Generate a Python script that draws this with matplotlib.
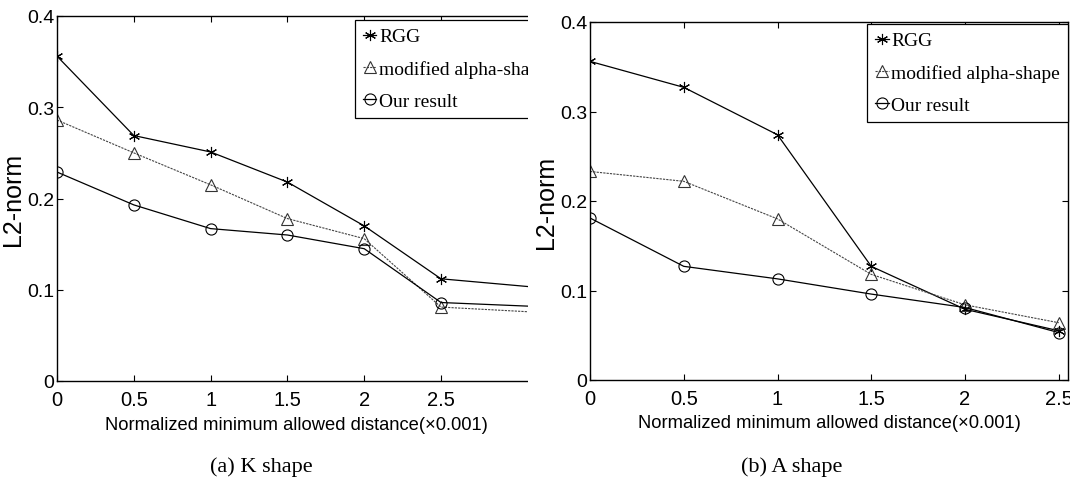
import matplotlib.pyplot as plt
from matplotlib.patches import Rectangle

# K shape (left), A shape (right)
x_k = [0, 0.5, 1, 1.5, 2, 2.5, 3.5]
rgg_k = [0.356, 0.269, 0.251, 0.218, 0.170, 0.112, 0.097]
alpha_k = [0.286, 0.250, 0.215, 0.178, 0.156, 0.081, 0.072]
ours_k = [0.229, 0.193, 0.167, 0.160, 0.145, 0.086, 0.079]

x_a = [0, 0.5, 1, 1.5, 2, 2.5]
rgg_a = [0.356, 0.327, 0.274, 0.127, 0.079, 0.055]
alpha_a = [0.233, 0.222, 0.180, 0.118, 0.084, 0.064]
ours_a = [0.181, 0.127, 0.113, 0.096, 0.081, 0.053]

xticks = [0, 0.5, 1, 1.5, 2, 2.5]
xtick_labels = ['0', '0.5', '1', '1.5', '2', '2.5']
yticks = [0, 0.1, 0.2, 0.3, 0.4]
ytick_labels = ['0', '0.1', '0.2', '0.3', '0.4']

W, H = 1070, 481
sans = ['Liberation Sans', 'DejaVu Sans']
serif = ['Liberation Serif', 'DejaVu Serif']

fig = plt.figure(figsize=(W / 100, H / 100), dpi=100)


def px_axes(left, top, right, bottom):
    return [left / W, 1 - bottom / H, (right - left) / W, (bottom - top) / H]


def draw(ax, x, rgg, alpha, ours, xmax):
    ax.plot(x, rgg, color='black', lw=0.9, marker=(6, 2, 0), ms=8,
            mew=0.8, label='RGG')
    ax.plot(x, alpha, color='#444444', lw=0.8, ls=(0, (2, 1)), marker='^',
            ms=8, mfc='none', mec='#333333', mew=0.8,
            label='modified alpha-shape')
    ax.plot(x, ours, color='black', lw=0.9, marker='o', ms=8, mfc='none',
            mew=0.8, label='Our result')
    ax.set_xlim(0, xmax)
    ax.set_ylim(0, 0.4)
    ax.set_xticks(xticks)
    ax.set_xticklabels(xtick_labels, family=sans, fontsize=14.5)
    ax.set_yticks(yticks)
    ax.set_yticklabels(ytick_labels, family=sans, fontsize=14)
    ax.tick_params(direction='in', top=True, right=True, length=4.5,
                   width=0.8)
    ax.tick_params(axis='x', pad=6.5)
    ax.tick_params(axis='y', pad=2)
    for s in ax.spines.values():
        s.set_linewidth(1.0)
    ax.set_xlabel('Normalized minimum allowed distance(×0.001)',
                  family=sans, fontsize=13.2)
    ax.set_ylabel('L2-norm', family=sans, fontsize=18)


def add_legend(ax, anchor, loc):
    leg = ax.legend(loc=loc, bbox_to_anchor=anchor,
                    prop={'family': serif, 'size': 14}, frameon=True,
                    fancybox=False, edgecolor='black', framealpha=1,
                    borderpad=0.4, labelspacing=0.75, handlelength=0.7,
                    handletextpad=0.15, borderaxespad=0)
    leg.get_frame().set_linewidth(0.9)
    return leg


ax1 = fig.add_axes(px_axes(57, 17, 535, 382))
draw(ax1, x_k, rgg_k, alpha_k, ours_k, 478 / 153.6)
ax1.xaxis.set_label_coords(0.5, -0.095)
ax1.yaxis.set_label_coords(-0.066, 0.5)
add_legend(ax1, ((355 - 57) / 478, 1 - 4 / 365), 'upper left')
ax1.set_zorder(1)

ax2 = fig.add_axes(px_axes(590, 23, 1068, 381))
draw(ax2, x_a, rgg_a, alpha_a, ours_a, 478 / 187.5)
ax2.xaxis.set_label_coords(0.5, -0.095)
ax2.yaxis.set_label_coords(-0.066, 0.5)
add_legend(ax2, (1.0, 1 - 2 / 358), 'upper right')
ax2.set_zorder(3)

# the left panel is cut off at its right side
fig.add_artist(Rectangle((528 / W, 0), 32 / W, 1, transform=fig.transFigure,
                         facecolor='white', edgecolor='none', zorder=2))

fig.text(261 / W, 1 - 467 / H, '(a) K shape', family=serif, fontsize=16,
         ha='center', va='center')
fig.text(792 / W, 1 - 467 / H, '(b) A shape', family=serif, fontsize=16,
         ha='center', va='center')

fig.savefig('out.png', dpi=100)
